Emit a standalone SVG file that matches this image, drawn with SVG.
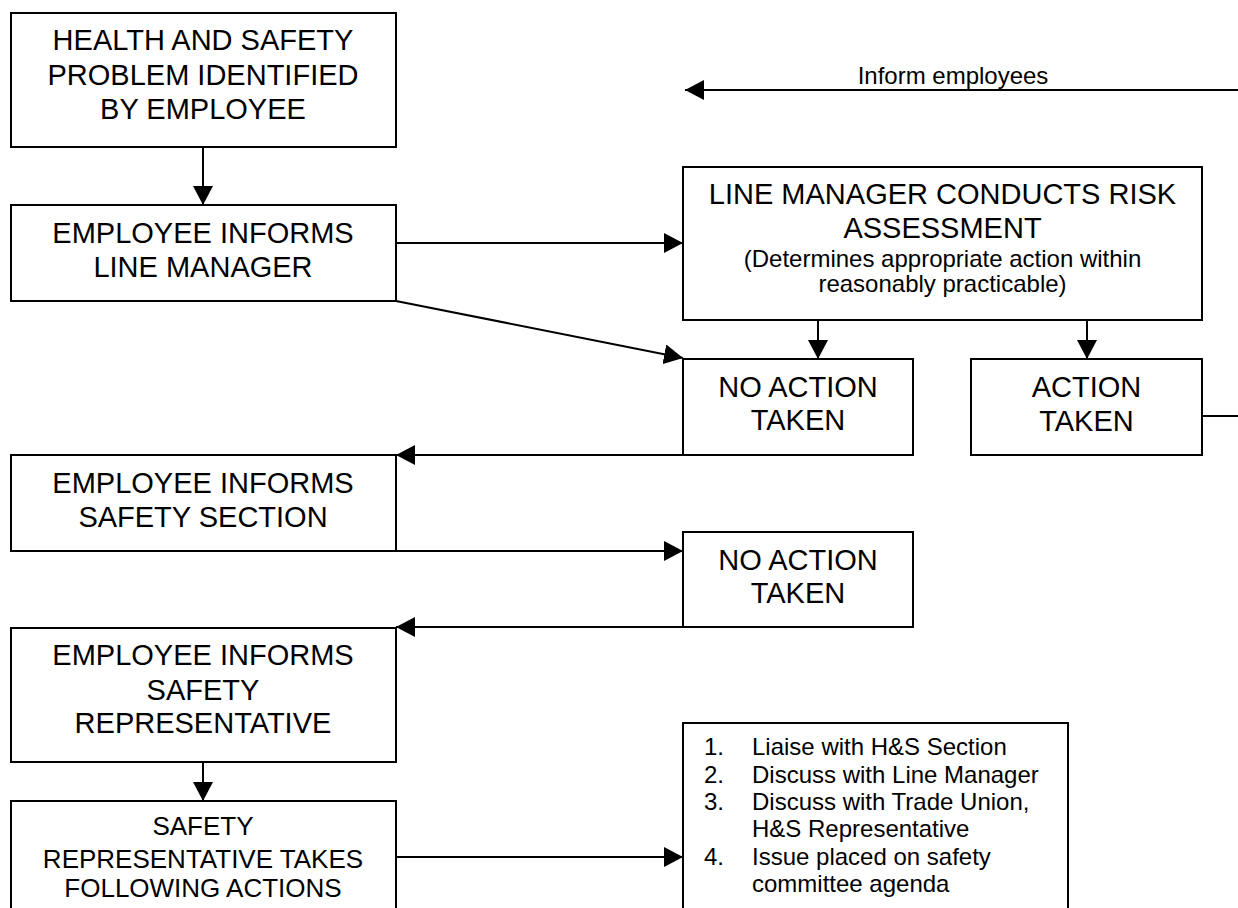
<svg xmlns="http://www.w3.org/2000/svg" width="1238" height="908" viewBox="0 0 1238 908">
<defs>
<style>
.box{fill:#fff;stroke:#000;stroke-width:2}
.t{font-family:"Liberation Sans",Arial,sans-serif;font-size:29px;fill:#000;text-anchor:middle}
.s{font-family:"Liberation Sans",Arial,sans-serif;font-size:24px;fill:#000;text-anchor:middle}
.m{font-family:"Liberation Sans",Arial,sans-serif;font-size:26px;fill:#000;text-anchor:middle}
.l{font-family:"Liberation Sans",Arial,sans-serif;font-size:24px;fill:#000}
.c{fill:none;stroke:#000;stroke-width:2}
.ca{fill:none;stroke:#000;stroke-width:2;marker-end:url(#ah)}
</style>
<marker id="ah" markerUnits="userSpaceOnUse" markerWidth="20" markerHeight="20" refX="19" refY="10" orient="auto" viewBox="0 0 20 20">
<path d="M0,0 L19,10 L0,20 Z" fill="#000"/>
</marker>
</defs>
<rect width="1238" height="908" fill="#fff"/>

<g id="connectors">
<line class="ca" x1="1238" y1="90" x2="685" y2="90"/>
<line class="ca" x1="203" y1="147" x2="203" y2="205"/>
<line class="ca" x1="396" y1="243" x2="683" y2="243"/>
<line class="ca" x1="396" y1="301" x2="683" y2="358"/>
<line class="ca" x1="818" y1="320" x2="818" y2="359"/>
<line class="ca" x1="1087" y1="320" x2="1087" y2="359"/>
<line class="c" x1="1202" y1="416" x2="1238" y2="416"/>
<line class="ca" x1="683" y1="455" x2="396" y2="455"/>
<line class="ca" x1="396" y1="551" x2="683" y2="551"/>
<line class="ca" x1="683" y1="627" x2="396" y2="627"/>
<line class="ca" x1="203" y1="762" x2="203" y2="801"/>
<line class="ca" x1="396" y1="857" x2="683" y2="857"/>
</g>
<text class="s" x="953" y="84">Inform employees</text>

<g id="n1">
<rect class="box" x="11" y="13" width="385" height="134"/>
<text class="t" x="203" y="50">HEALTH AND SAFETY</text>
<text class="t" x="203" y="85">PROBLEM IDENTIFIED</text>
<text class="t" x="203" y="119">BY EMPLOYEE</text>
</g>

<g id="n2">
<rect class="box" x="11" y="205" width="385" height="96"/>
<text class="t" x="203" y="243">EMPLOYEE INFORMS</text>
<text class="t" x="203" y="277">LINE MANAGER</text>
</g>

<g id="n3">
<rect class="box" x="683" y="167" width="519" height="153"/>
<text class="t" x="942.5" y="204">LINE MANAGER CONDUCTS RISK</text>
<text class="t" x="942.5" y="238">ASSESSMENT</text>
<text class="s" x="942.5" y="267">(Determines appropriate action within</text>
<text class="s" x="942.5" y="292">reasonably practicable)</text>
</g>

<g id="n4">
<rect class="box" x="683" y="359" width="230" height="96"/>
<text class="t" x="798" y="397">NO ACTION</text>
<text class="t" x="798" y="430">TAKEN</text>
</g>

<g id="n5">
<rect class="box" x="971" y="359" width="231" height="96"/>
<text class="t" x="1086.5" y="397">ACTION</text>
<text class="t" x="1086.5" y="431">TAKEN</text>
</g>

<g id="n6">
<rect class="box" x="11" y="455" width="385" height="96"/>
<text class="t" x="203" y="493">EMPLOYEE INFORMS</text>
<text class="t" x="203" y="527">SAFETY SECTION</text>
</g>

<g id="n7">
<rect class="box" x="683" y="532" width="230" height="95"/>
<text class="t" x="798" y="570">NO ACTION</text>
<text class="t" x="798" y="603">TAKEN</text>
</g>

<g id="n8">
<rect class="box" x="11" y="628" width="385" height="134"/>
<text class="t" x="203" y="665">EMPLOYEE INFORMS</text>
<text class="t" x="203" y="700">SAFETY</text>
<text class="t" x="203" y="733">REPRESENTATIVE</text>
</g>

<g id="n9">
<rect class="box" x="11" y="801" width="385" height="120"/>
<text class="m" x="203" y="835">SAFETY</text>
<text class="m" x="203" y="868">REPRESENTATIVE TAKES</text>
<text class="m" x="203" y="897">FOLLOWING ACTIONS</text>
</g>

<g id="n10">
<rect class="box" x="683" y="723" width="385" height="200"/>
<text class="l" x="704" y="755">1.</text>
<text class="l" x="752" y="755">Liaise with H&amp;S Section</text>
<text class="l" x="704" y="783">2.</text>
<text class="l" x="752" y="783">Discuss with Line Manager</text>
<text class="l" x="704" y="810">3.</text>
<text class="l" x="752" y="810">Discuss with Trade Union,</text>
<text class="l" x="752" y="837">H&amp;S Representative</text>
<text class="l" x="704" y="865">4.</text>
<text class="l" x="752" y="865">Issue placed on safety</text>
<text class="l" x="752" y="892">committee agenda</text>
</g>
</svg>
